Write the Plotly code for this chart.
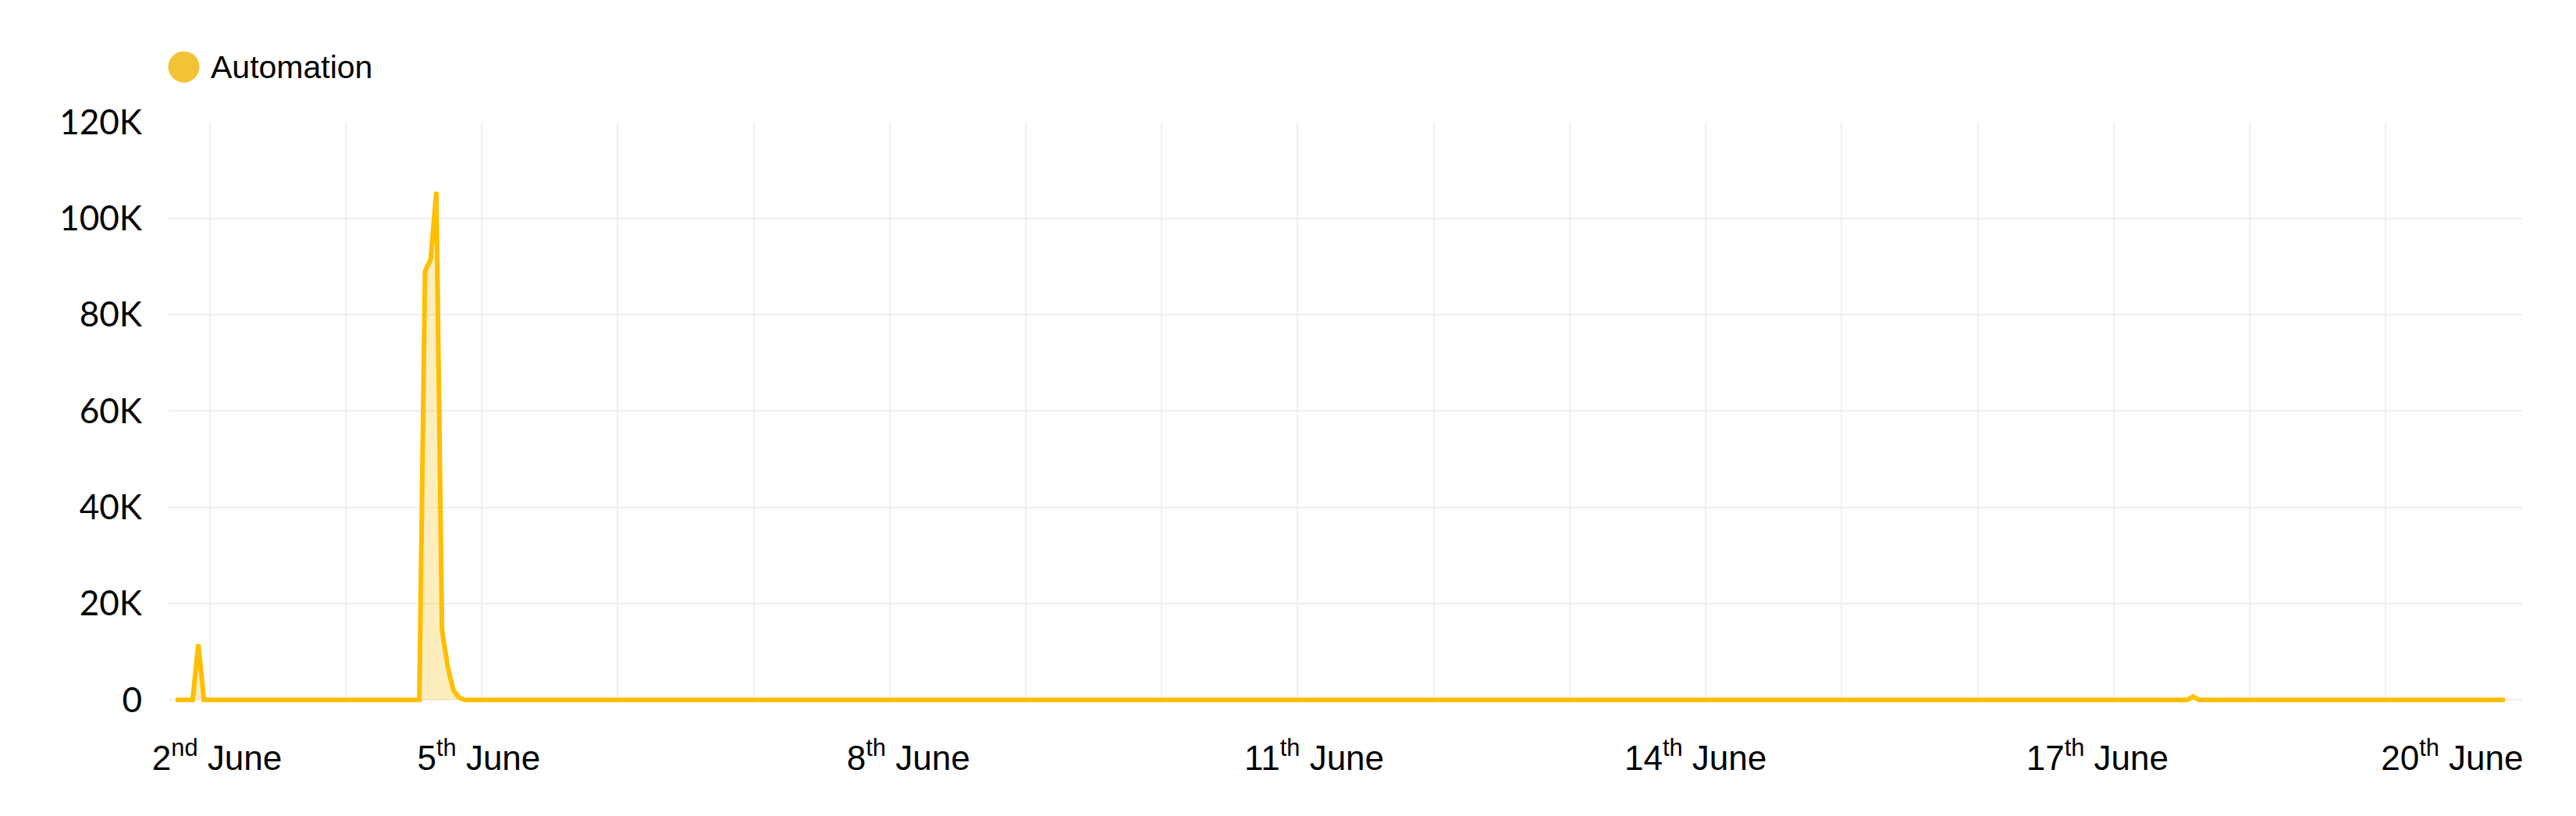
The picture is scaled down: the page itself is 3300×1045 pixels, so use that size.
import plotly.graph_objects as go

# ---- data (hourly readings) ----
series_name = "Automation"
values = [
    0, 0, 0, 0, 11500, 0, 0, 0, 0, 0, 0, 0, 0, 0, 0, 0, 0, 0, 0, 0, 0, 0, 0, 0,
    0, 0, 0, 0, 0, 0, 0, 0, 0, 0, 0, 0, 0, 0, 0, 0, 0, 0, 0, 0, 89000, 91500, 105500, 14500,
    7000, 2000, 500, 0, 0, 0, 0, 0, 0, 0, 0, 0, 0, 0, 0, 0, 0, 0, 0, 0, 0, 0, 0, 0,
    0, 0, 0, 0, 0, 0, 0, 0, 0, 0, 0, 0, 0, 0, 0, 0, 0, 0, 0, 0, 0, 0, 0, 0,
    0, 0, 0, 0, 0, 0, 0, 0, 150, 0, 0, 0, 0, 0, 0, 0, 0, 0, 0, 0, 0, 0, 0, 0,
    0, 0, 0, 0, 0, 0, 0, 0, 0, 0, 0, 0, 0, 0, 0, 0, 0, 0, 0, 0, 0, 0, 0, 0,
    0, 0, 0, 0, 0, 0, 0, 0, 0, 0, 0, 0, 0, 0, 0, 0, 0, 0, 0, 0, 0, 0, 0, 0,
    0, 0, 0, 0, 0, 0, 0, 0, 0, 0, 0, 0, 0, 0, 0, 0, 0, 0, 0, 0, 0, 0, 0, 0,
    0, 0, 0, 0, 0, 0, 0, 0, 0, 0, 0, 0, 0, 0, 0, 0, 0, 0, 0, 0, 0, 0, 0, 0,
    0, 0, 0, 0, 0, 0, 0, 0, 0, 0, 0, 0, 0, 0, 0, 0, 0, 0, 0, 0, 0, 0, 0, 0,
    0, 0, 0, 0, 0, 0, 0, 0, 0, 0, 0, 0, 0, 0, 0, 0, 0, 0, 0, 0, 0, 0, 0, 0,
    0, 0, 0, 0, 0, 0, 0, 0, 0, 0, 0, 0, 0, 0, 0, 0, 0, 0, 0, 0, 0, 0, 0, 0,
    0, 0, 0, 0, 0, 0, 0, 0, 0, 0, 0, 0, 0, 0, 0, 0, 0, 0, 0, 0, 0, 0, 0, 0,
    0, 0, 0, 0, 0, 0, 0, 0, 0, 0, 0, 0, 0, 0, 0, 0, 0, 0, 0, 0, 0, 0, 0, 0,
    150, 0, 0, 0, 0, 0, 0, 0, 0, 0, 0, 0, 0, 0, 0, 0, 0, 0, 0, 0, 700, 0, 0, 0,
    0, 0, 0, 0, 0, 0, 0, 0, 0, 0, 0, 0, 0, 0, 0, 0, 0, 0, 0, 0, 0, 0, 0, 0,
    0, 0, 0, 0, 0, 0, 0, 0, 0, 0, 0, 0, 0, 0, 0, 0, 0, 0, 0, 0, 0, 0, 0, 0,
    0, 0, 0, 0,
]
hours = list(range(len(values)))

x_tick_labels = ["2<sup>nd</sup> June", "5<sup>th</sup> June", "8<sup>th</sup> June",
                 "11<sup>th</sup> June", "14<sup>th</sup> June", "17<sup>th</sup> June",
                 "20<sup>th</sup> June"]
x_tick_positions = [7.3, 53.5, 129.3, 200.9, 268.2, 339.1, 401.7]

y_tick_values = [0, 20000, 40000, 60000, 80000, 100000, 120000]
y_tick_labels = ["0", "20K", "40K", "60K", "80K", "100K", "120K"]

# ---- styling ----
LINE = "#FFBE00"
FILL = "rgba(255,190,0,0.26)"
LEGEND_DOT = "#F2C335"
GRID = "#EFEFEF"

fig = go.Figure()
fig.add_trace(go.Scatter(
    x=hours, y=values, name=series_name, mode="lines",
    line=dict(color=LINE, width=6), fill="tozeroy", fillcolor=FILL,
    showlegend=False,
))

# the page body adds an 8px margin, so the figure is sized to fit the window
fig.update_layout(
    width=3292, height=1037,
    margin=dict(l=208, r=69, t=148, b=145),
    paper_bgcolor="white", plot_bgcolor="white",
    showlegend=False,
    xaxis=dict(
        range=[-1.24, 414.05],
        tickmode="array", tickvals=x_tick_positions, ticktext=x_tick_labels,
        showgrid=False, zeroline=False, showline=False, ticks="",
        tickfont=dict(family="Liberation Sans, Arial", size=44, color="black"),
        ticklabelstandoff=41,
        minor=dict(tick0=6, dtick=24, showgrid=True, gridcolor=GRID, gridwidth=2, ticks=""),
    ),
    yaxis=dict(
        range=[-600, 120060],
        tickmode="array", tickvals=y_tick_values, ticktext=y_tick_labels,
        showgrid=True, gridcolor=GRID, gridwidth=2, zeroline=False, showline=False,
        ticks="", tickfont=dict(family="Lato", size=44, color="black"),
        ticklabelstandoff=33,
    ),
)

# legend (custom: large dot + label)
fig.add_shape(type="circle", xref="paper", yref="paper",
              xsizemode="pixel", ysizemode="pixel",
              xanchor=0.00647, yanchor=1.0945, x0=-20, x1=20, y0=-20, y1=20,
              fillcolor=LEGEND_DOT, line=dict(width=0))
fig.add_annotation(xref="paper", yref="paper", x=0.01725, y=1.0945,
                   xanchor="left", yanchor="middle", showarrow=False,
                   text=series_name,
                   font=dict(family="Liberation Sans, Arial", size=41, color="black"))

fig.write_html("out.html")
